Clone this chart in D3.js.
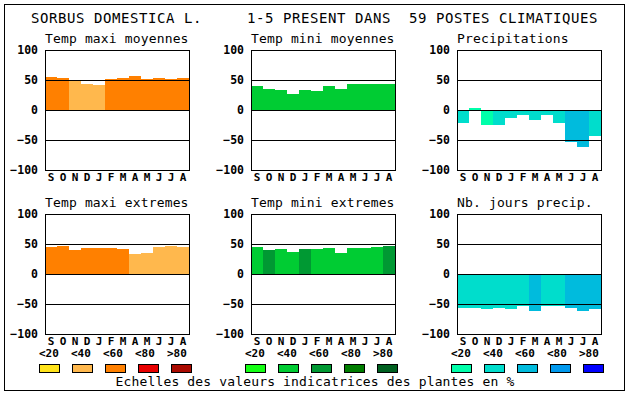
<!DOCTYPE html>
<html>
<head>
<meta charset="utf-8">
<script src="https://cdn.jsdelivr.net/npm/d3@7"></script>
<style>
  body { margin: 0; background: #fff; }
  svg { display: block; }
</style>
</head>
<body>
<div id="chart-area"></div>
<script>
// --- data ---
var months = ["S","O","N","D","J","F","M","A","M","J","J","A"];
var yTicks = [100, 50, 0, -50, -100];
var gridVals = [50, 0, -50];
var classLabels = ["<20", "<40", "<60", "<80", ">80"];

var orangeScale = ["#ffe31a", "#ffb84d", "#ff8000", "#e80000", "#aa0a00"];
var greenScale  = ["#14ff14", "#00cc33", "#009933", "#007d00", "#006020"];
var blueScale   = ["#00ffaa", "#00ddcc", "#00bbdd", "#0099ee", "#0000ff"];

var tmaxMoy    = [55, 53, 50, 43, 41, 51, 53, 57, 52, 53, 52, 53];
var tmaxMoyCls = [2, 2, 1, 1, 1, 2, 2, 2, 2, 2, 2, 2];
var tminMoy    = [40, 35, 33, 27, 33, 32, 40, 35, 44, 44, 44, 44];
var tminMoyCls = [1, 1, 1, 1, 1, 1, 1, 1, 1, 1, 1, 1];
var precip     = [-21, 3, -25, -25, -13, -8, -17, -8, -21, -53, -61, -43];
var precipCls  = [1, 0, 0, 1, 1, 1, 1, 1, 1, 2, 2, 1];
var tmaxExt    = [45, 47, 40, 43, 43, 43, 42, 33, 35, 45, 47, 45];
var tmaxExtCls = [2, 2, 2, 2, 2, 2, 2, 1, 1, 1, 1, 1];
var tminExt    = [45, 40, 42, 37, 42, 42, 43, 35, 43, 43, 45, 47];
var tminExtCls = [1, 2, 1, 1, 2, 1, 1, 1, 1, 1, 1, 2];
var nbJours    = [-56, -56, -58, -56, -58, -54, -61, -54, -54, -56, -61, -58];
var nbJoursCls = [1, 1, 1, 1, 1, 1, 2, 1, 1, 2, 2, 2];

var W = 630, H = 394;
var plotW = 144, plotH = 120;
var cols = [45, 251, 457];
var rows = [50, 214];

var panels = [
  {title: "Temp maxi moyennes",  vals: tmaxMoy, cls: tmaxMoyCls, pal: orangeScale, c: 0, r: 0},
  {title: "Temp mini moyennes",  vals: tminMoy, cls: tminMoyCls, pal: greenScale,  c: 1, r: 0},
  {title: "Precipitations",      vals: precip,  cls: precipCls,  pal: blueScale,   c: 2, r: 0},
  {title: "Temp maxi extremes",  vals: tmaxExt, cls: tmaxExtCls, pal: orangeScale, c: 0, r: 1},
  {title: "Temp mini extremes",  vals: tminExt, cls: tminExtCls, pal: greenScale,  c: 1, r: 1},
  {title: "Nb. jours precip.",   vals: nbJours, cls: nbJoursCls, pal: blueScale,   c: 2, r: 1}
];

var mono = "'DejaVu Sans Mono', 'Liberation Mono', monospace";

var svg = d3.select("#chart-area")
  .append("svg")
  .attr("width", W)
  .attr("height", H);

// outer frame
svg.append("rect")
  .attr("x", 4.5).attr("y", 4.5)
  .attr("width", 620).attr("height", 386)
  .attr("fill", "none").attr("stroke", "#000");

// title
var titleParts = [["SORBUS DOMESTICA L.", 31], ["1-5 PRESENT DANS", 247], ["59 POSTES CLIMATIQUES", 409]];
svg.selectAll(".title")
  .data(titleParts)
  .enter().append("text")
  .attr("class", "title")
  .attr("x", function(d){ return d[1]; })
  .attr("y", 23)
  .attr("font-family", mono)
  .attr("font-size", "14px")
  .attr("letter-spacing", "0.57px")
  .text(function(d){ return d[0]; });

panels.forEach(function(p) {
  var left = cols[p.c], top = rows[p.r];

  var x = d3.scaleBand()
    .domain(d3.range(months.length))
    .range([left, left + plotW])
    .padding(0);

  var y = d3.scaleLinear()
    .domain([-100, 100])
    .range([top + plotH, top]);

  var g = svg.append("g");

  // subtitle
  g.append("text")
    .attr("x", left)
    .attr("y", top - 7)
    .attr("font-family", mono)
    .attr("font-size", "13px")
    .attr("letter-spacing", "0.15px")
    .text(p.title);

  // bars
  g.selectAll(".bar")
    .data(p.vals)
    .enter().append("rect")
    .attr("class", "bar")
    .attr("x", function(d, i){ return x(i); })
    .attr("width", x.bandwidth())
    .attr("y", function(d){ return d >= 0 ? y(d) : y(0); })
    .attr("height", function(d){ return Math.abs(y(d) - y(0)); })
    .attr("fill", function(d, i){ return p.pal[p.cls[i]]; })
    .attr("shape-rendering", "crispEdges");

  // gridlines on top of bars
  g.selectAll(".grid")
    .data(gridVals)
    .enter().append("line")
    .attr("x1", left).attr("x2", left + plotW)
    .attr("y1", function(d){ return Math.round(y(d)) + 0.5; })
    .attr("y2", function(d){ return Math.round(y(d)) + 0.5; })
    .attr("stroke", "#000");

  // frame
  g.append("rect")
    .attr("x", left + 0.5).attr("y", top + 0.5)
    .attr("width", plotW).attr("height", plotH)
    .attr("fill", "none").attr("stroke", "#000");

  // y axis labels
  var yAxis = d3.axisLeft(y)
    .tickValues(yTicks)
    .tickSize(0)
    .tickPadding(7);

  var ya = g.append("g")
    .attr("transform", "translate(" + left + ",0)")
    .call(yAxis);
  ya.select(".domain").remove();
  ya.selectAll("text")
    .attr("font-family", mono)
    .attr("font-weight", "bold")
    .attr("font-size", "11.5px")
    .attr("fill", "#000");

  // month labels
  var xAxis = d3.axisBottom(x)
    .tickSize(0)
    .tickFormat(function(i){ return months[i]; });

  var xa = g.append("g")
    .attr("transform", "translate(0," + (top + plotH) + ")")
    .call(xAxis);
  xa.select(".domain").remove();
  xa.selectAll("text")
    .attr("y", 10.5)
    .attr("dy", 0)
    .attr("font-family", mono)
    .attr("font-weight", "bold")
    .attr("font-size", "11px")
    .attr("fill", "#000");
});

// legends
[orangeScale, greenScale, blueScale].forEach(function(pal, k) {
  var start = cols[k] - 6;
  var lx = d3.scalePoint().domain(d3.range(5)).range([start, start + 128]);
  var bx = d3.scalePoint().domain(d3.range(5)).range([start, start + 132]);
  var lg = svg.append("g");

  lg.selectAll("text")
    .data(classLabels)
    .enter().append("text")
    .attr("x", function(d, i){ return lx(i); })
    .attr("y", 357)
    .attr("font-family", mono)
    .attr("font-weight", "bold")
    .attr("font-size", "11px")
    .text(function(d){ return d; });

  lg.selectAll("rect")
    .data(pal)
    .enter().append("rect")
    .attr("x", function(d, i){ return bx(i) + 0.5; })
    .attr("y", 364.5)
    .attr("width", 20)
    .attr("height", 8)
    .attr("fill", function(d){ return d; })
    .attr("stroke", "#000");
});

svg.append("text")
  .attr("x", 315)
  .attr("y", 386)
  .attr("text-anchor", "middle")
  .attr("font-family", mono)
  .attr("font-size", "13px")
  .attr("letter-spacing", "0.15px")
  .text("Echelles des valeurs indicatrices des plantes en %");
</script>
</body>
</html>
